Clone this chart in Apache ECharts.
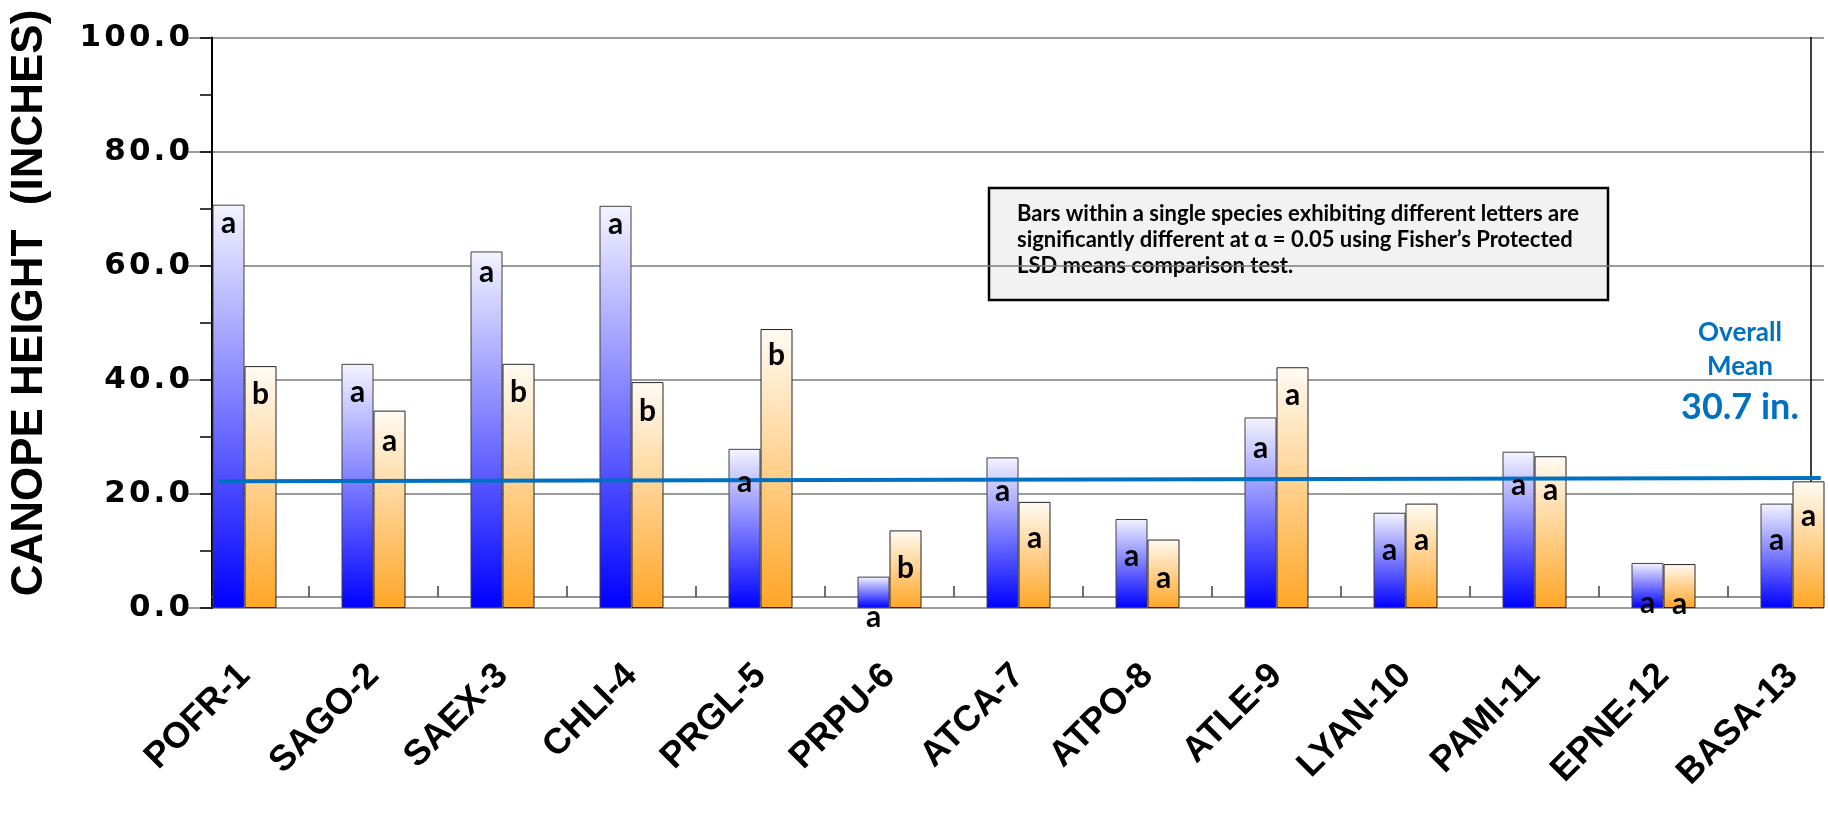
<!DOCTYPE html>
<html>
<head>
<meta charset="utf-8">
<script src="https://cdn.jsdelivr.net/npm/echarts@6/dist/echarts.min.js"></script>
<style>
  html, body { margin: 0; padding: 0; background: #ffffff; }
  #chart { width: 1828px; height: 816px; }
</style>
</head>
<body>
<div id="chart"></div>
<script>
// ---------------- data ----------------
const categories = ['POFR-1', 'SAGO-2', 'SAEX-3', 'CHLI-4', 'PRGL-5', 'PRPU-6', 'ATCA-7',
                    'ATPO-8', 'ATLE-9', 'LYAN-10', 'PAMI-11', 'EPNE-12', 'BASA-13'];
const blueValues   = [70.7, 42.8, 62.5, 70.5, 27.9, 5.5, 26.4, 15.6, 33.4, 16.7, 27.4, 7.9, 18.3];
const orangeValues = [42.4, 34.6, 42.8, 39.6, 48.9, 13.6, 18.6, 12.0, 42.2, 18.3, 26.6, 7.7, 22.2];
const blueLetters   = ['a', 'a', 'a', 'a', 'a', 'a', 'a', 'a', 'a', 'a', 'a', 'a', 'a'];
const orangeLetters = ['b', 'a', 'b', 'b', 'b', 'b', 'a', 'a', 'a', 'a', 'a', 'a', 'a'];
const yMin = 0, yMax = 100, yInterval = 20, yMinorInterval = 10;
// overall-mean reference line (x as fraction of plot width, y in inches)
const meanLineX = [0.004, 0.998];
const meanLineY = [22.2, 22.8];
const meanTitle = 'Overall\nMean';
const meanValueText = '30.7 in.';
const yAxisTitle = 'CANOPE HEIGHT  (INCHES)';
const noteLines = [
  'Bars within a single species exhibiting different letters are',
  'significantly different at \u03b1 = 0.05 using Fisher\u2019s Protected',
  'LSD means comparison test.'
];

// ---------------- styling ----------------
const AX_FONT = '"Liberation Sans", Arial, sans-serif';
const TICK_FONT = '"DejaVu Sans", sans-serif';
const CAL_FONT = 'Lato, "Open Sans", sans-serif';
const BLUE_TXT = '#0070C0';
const GRID_PLOT = { left: 180, width: 1677, top: 37.5, height: 570.5 };
const GRID_FRAME = { left: 212, width: 1612, top: 37.5, height: 570.5 };

const blueGrad = new echarts.graphic.LinearGradient(0, 0, 0, 1, [
  { offset: 0, color: '#f4f4ff' }, { offset: 1, color: '#0000ff' }]);
const orangeGrad = new echarts.graphic.LinearGradient(0, 0, 0, 1, [
  { offset: 0, color: '#fffbf3' }, { offset: 1, color: '#ffa626' }]);

// letter placement: sits a little lower on short bars, as in the original
function letterData(values, letters) {
  return values.map((v, i) => ({
    value: v,
    label: { formatter: letters[i], offset: [0, (44 - 0.35 * v) - 16] }
  }));
}

function spaced(s) { return s.split('').join('\u200a'); }

const chart = echarts.init(document.getElementById('chart'), null, { renderer: 'canvas' });

const option = {
  backgroundColor: '#ffffff',
  animation: false,
  grid: [
    Object.assign({ containLabel: false, outerBoundsMode: 'none' }, GRID_PLOT),
    Object.assign({ containLabel: false, outerBoundsMode: 'none' }, GRID_FRAME),
    Object.assign({ containLabel: false, outerBoundsMode: 'none' }, GRID_PLOT)
  ],
  xAxis: [
    { // bars
      gridIndex: 0, type: 'category', data: categories, offset: -11,
      axisLine: { show: false, onZero: false },
      axisTick: { show: true, inside: true, length: 11, interval: (i) => i > 0,
                  lineStyle: { color: '#404040', width: 1.5 } },
      axisLabel: { interval: 0, rotate: 45, margin: 73, color: '#000',
                   fontFamily: AX_FONT, fontWeight: 'bold', fontSize: 36 },
      splitLine: { show: false }
    },
    { // frame line
      gridIndex: 1, type: 'value', min: 0, max: 1, offset: -11,
      axisLine: { show: true, onZero: false, lineStyle: { color: '#6f6f6f', width: 1.5 } },
      axisTick: { show: false }, axisLabel: { show: false }, splitLine: { show: false }
    },
    { // letters
      gridIndex: 2, type: 'category', data: categories, show: false
    }
  ],
  yAxis: [
    { gridIndex: 0, type: 'value', min: yMin, max: yMax, show: false },
    {
      gridIndex: 1, type: 'value', min: yMin, max: yMax, interval: yInterval,
      axisLine: { show: true, onZero: false, lineStyle: { color: '#000', width: 2 } },
      axisTick: { show: true, inside: false, length: 24, lineStyle: { color: '#7a7a7a', width: 1.5 } },
      axisLabel: { margin: 22, color: '#000', fontFamily: TICK_FONT, fontWeight: 'bold', fontSize: 31,
                   formatter: (v) => spaced(v.toFixed(1)) },
      splitLine: { show: true, lineStyle: { color: '#7a7a7a', width: 1.5 } }
    },
    {
      gridIndex: 1, type: 'value', min: yMin, max: yMax, interval: yMinorInterval,
      axisLine: { show: false }, axisLabel: { show: false }, splitLine: { show: false },
      axisTick: { show: true, inside: true, length: 12, lineStyle: { color: '#000', width: 1.5 } }
    },
    {
      gridIndex: 1, type: 'value', min: yMin, max: yMax, position: 'right', offset: -13,
      axisLine: { show: true, onZero: false, lineStyle: { color: '#000', width: 1.5 } },
      axisTick: { show: false }, axisLabel: { show: false }, splitLine: { show: false }
    },
    { gridIndex: 2, type: 'value', min: yMin, max: yMax, show: false }
  ],
  series: [
    {
      type: 'bar', xAxisIndex: 0, yAxisIndex: 0, data: blueValues, z: 2,
      barWidth: 32, barGap: '0%',
      itemStyle: { color: blueGrad, borderColor: '#404040', borderWidth: 1 }
    },
    {
      type: 'bar', xAxisIndex: 0, yAxisIndex: 0, data: orangeValues, z: 2,
      barWidth: 32, barGap: '0%',
      itemStyle: { color: orangeGrad, borderColor: '#262626', borderWidth: 1 }
    },
    {
      type: 'line', xAxisIndex: 1, yAxisIndex: 1, z: 3, symbol: 'none', silent: true,
      data: meanLineX.map((x, i) => [x, meanLineY[i]]),
      lineStyle: { color: BLUE_TXT, width: 4 }
    },
    {
      type: 'bar', xAxisIndex: 2, yAxisIndex: 4, z: 4, silent: true,
      barWidth: 32, barGap: '0%',
      data: letterData(blueValues, blueLetters),
      itemStyle: { color: 'rgba(0,0,0,0)', borderWidth: 0 },
      label: { show: true, position: 'insideTop', distance: 0, color: '#000',
               fontFamily: CAL_FONT, fontWeight: 'bold', fontSize: 30 }
    },
    {
      type: 'bar', xAxisIndex: 2, yAxisIndex: 4, z: 4, silent: true,
      barWidth: 32, barGap: '0%',
      data: letterData(orangeValues, orangeLetters),
      itemStyle: { color: 'rgba(0,0,0,0)', borderWidth: 0 },
      label: { show: true, position: 'insideTop', distance: 0, color: '#000',
               fontFamily: CAL_FONT, fontWeight: 'bold', fontSize: 30 }
    }
  ],
  graphic: [
    {
      type: 'text', x: 30, y: 303, rotation: Math.PI / 2, z: 10,
      style: { text: yAxisTitle, fill: '#000', font: 'bold 44px ' + AX_FONT,
               textAlign: 'center', textVerticalAlign: 'middle' }
    },
    {
      type: 'group', x: 989, y: 188, z: 10,
      children: [
        { type: 'rect', shape: { x: 0, y: 0, width: 619, height: 112 },
          style: { fill: '#f2f2f2', stroke: '#000', lineWidth: 2.5 } },
        { type: 'text', x: 28, y: 13,
          style: { text: noteLines.join('\n'), fill: '#000', font: 'bold 22px ' + CAL_FONT,
                   lineHeight: 26, textAlign: 'left', textVerticalAlign: 'top' } }
      ]
    },
    {
      type: 'text', x: 1740, y: 350, z: 10,
      style: { text: meanTitle, fill: BLUE_TXT, font: 'bold 26px ' + CAL_FONT,
               lineHeight: 34, textAlign: 'center', textVerticalAlign: 'middle' }
    },
    {
      type: 'text', x: 1740, y: 407, z: 10,
      style: { text: meanValueText, fill: BLUE_TXT, font: 'bold 36px ' + CAL_FONT,
               textAlign: 'center', textVerticalAlign: 'middle' }
    }
  ]
};

chart.setOption(option);
</script>
</body>
</html>
